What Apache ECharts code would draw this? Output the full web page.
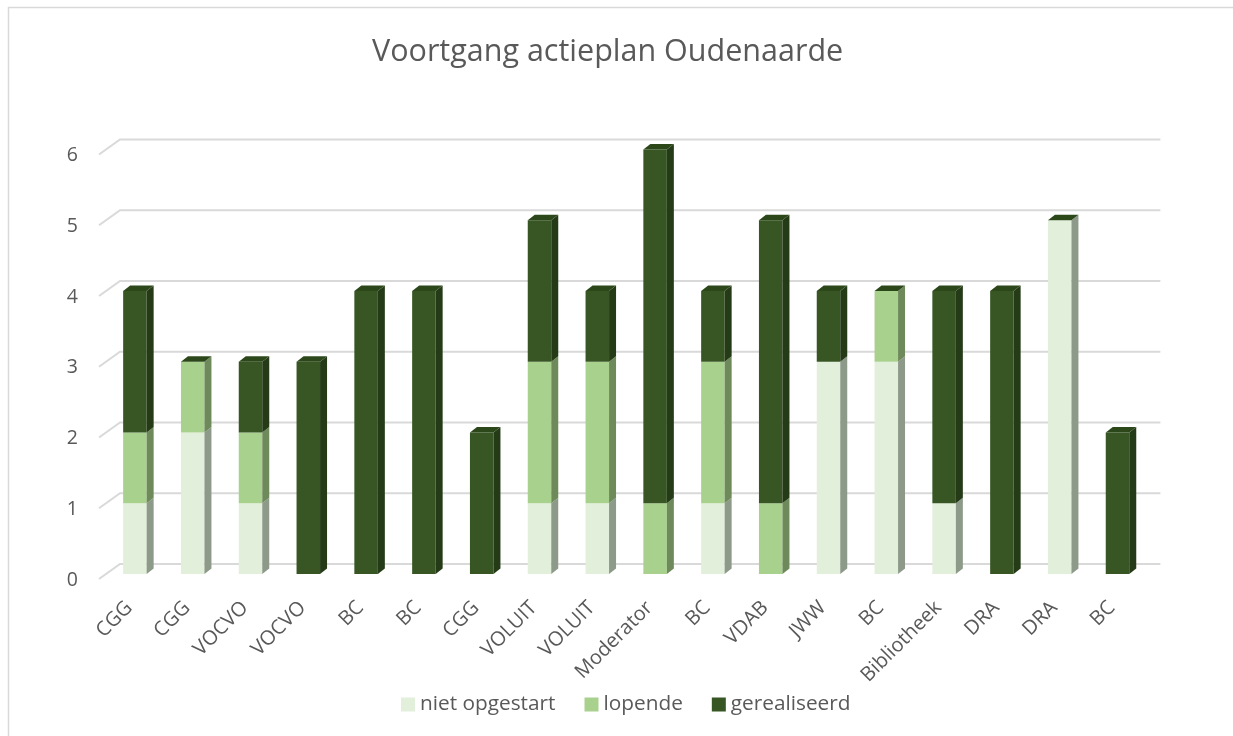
<!DOCTYPE html>
<html><head><meta charset="utf-8">
<script src="https://cdn.jsdelivr.net/npm/echarts@6/dist/echarts.min.js"></script>
<style>html,body{margin:0;padding:0;background:#fff}#c{width:1233px;height:736px}</style>
</head><body><div id="c"></div>
<script>
const categories = ['CGG','CGG','VOCVO','VOCVO','BC','BC','CGG','VOLUIT','VOLUIT','Moderator','BC','VDAB','JWW','BC','Bibliotheek','DRA','DRA','BC'];
const nietOpgestart = [1,2,1,0,0,0,0,1,1,0,1,0,3,3,1,0,5,0];
const lopende       = [1,1,1,0,0,0,0,2,2,1,2,1,0,1,0,0,0,0];
const gerealiseerd  = [2,0,1,3,4,4,2,2,1,5,1,4,1,0,3,4,0,2];
const yTicks = [0,1,2,3,4,5,6];
const seriesNames = ['niet opgestart','lopende','gerealiseerd'];

const FRONT = ['#E2EFDA','#A9D18E','#375623'];
const SIDE  = ['#8E9A89','#6E8A5B','#253B17'];
const TOP   = '#2C481B';
const BW = 23.5, DX = 7, DY = 5.5;
const stacks = [nietOpgestart, lopende, gerealiseerd];

const chart = echarts.init(document.getElementById('c'), null, {renderer:'canvas'});
const font = '"Open Sans", sans-serif';

const option = {
  animation: false,
  backgroundColor: '#fff',
  graphic: [{type:'rect', shape:{x:8.5,y:7.5,width:1400,height:900}, style:{fill:'none', stroke:'#d9d9d9', lineWidth:1.5}, z:-10}],
  title: {text:'Voortgang actieplan Oudenaarde', left:372, top:37, padding:0,
    textStyle:{fontFamily:font, fontSize:30.5, fontWeight:'normal', color:'#595959'}},
  legend: {top: 694, left:401, padding:0, itemWidth:14, itemHeight:14, itemGap:29, icon:'rect',
    data: seriesNames,
    textStyle:{fontFamily:font, fontSize:20.8, color:'#595959'}},
  grid: {left:106, right:1233-1146.4, top:149.5, bottom:736-574},
  xAxis: {type:'category', data:categories, axisLine:{show:false}, axisTick:{show:false},
    axisLabel:{rotate:45, margin:25, padding:[0,8,0,0], fontFamily:font, fontSize:20, color:'#595959', interval:0}},
  yAxis: {type:'value', min:0, max:6, interval:1, splitLine:{show:false}, axisLine:{show:false},
    axisLabel:{margin:28, fontFamily:font, fontSize:19.5, color:'#595959', verticalAlign:'top', lineHeight:12}},
  series: [
    {type:'custom', name:'grid3d', silent:true, z:1, data: yTicks.map(v=>[0,v]),
      renderItem: function(params, api){
        const v = api.value(1);
        const cs = params.coordSys;
        const y = api.coord([0, v])[1];
        const l = cs.x, r = cs.x + cs.width;
        const st = {stroke:'#d9d9d9', lineWidth:2, fill:null};
        return {type:'group', children:[
          {type:'polyline', shape:{points:[[l-7, y+5],[l+14, y-10],[r+14, y-10]]}, style:st}
        ]};
      }
    },
    ...seriesNames.map((n,k)=>({type:'bar', name:n, stack:'s', barWidth:BW, data:stacks[k],
      itemStyle:{color:FRONT[k]}, z:2})),
    {type:'custom', name:'sides', silent:true, z:3, data: categories.map((c,i)=>[i]),
      renderItem: function(params, api){
        const i = api.value(0);
        const cx = api.coord([i, 0])[0];
        const L = cx - BW/2, R = cx + BW/2;
        const children = [];
        let base = 0;
        for (let k=0;k<3;k++){
          const v = stacks[k][i];
          if (v > 0){
            const yb = api.coord([i, base])[1], yt = api.coord([i, base+v])[1];
            children.push({type:'polygon', shape:{points:[[R,yb],[R+DX,yb-DY],[R+DX,yt-DY],[R,yt]]}, style:{fill:SIDE[k]}});
          }
          base += v;
        }
        const yT = api.coord([i, base])[1];
        children.push({type:'polygon', shape:{points:[[L,yT],[L+DX,yT-DY],[R+DX,yT-DY],[R,yT]]}, style:{fill:TOP}});
        return {type:'group', children};
      }
    }
  ]
};
chart.setOption(option);
</script></body></html>
